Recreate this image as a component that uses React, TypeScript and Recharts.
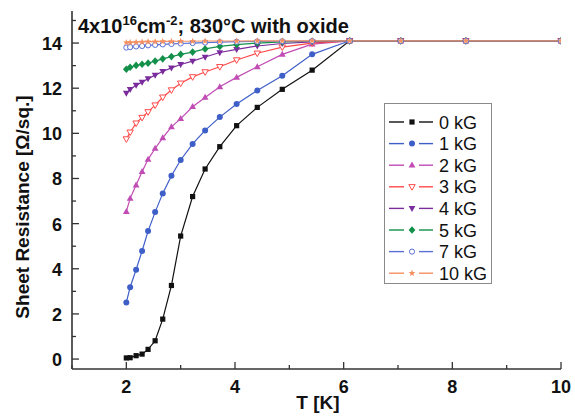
import React from 'react';
import { LineChart, Line, XAxis, YAxis, Legend } from 'recharts';

const T = [2.0, 2.07, 2.18, 2.29, 2.4, 2.53, 2.67, 2.83, 3.0, 3.22, 3.45, 3.72, 4.03, 4.41, 4.87, 5.42, 6.11, 7.05, 8.25, 10.0];

const R0 = [0.05, 0.06, 0.15, 0.22, 0.43, 0.81, 1.77, 3.26, 5.45, 7.2, 8.42, 9.41, 10.34, 11.15, 11.95, 12.8, 14.1, 14.1, 14.1, 14.1];
const R1 = [2.51, 3.18, 3.96, 4.79, 5.67, 6.51, 7.34, 8.12, 8.82, 9.53, 10.13, 10.72, 11.3, 11.9, 12.55, 13.5, 14.1, 14.1, 14.1, 14.1];
const R2 = [6.53, 7.12, 7.71, 8.3, 8.85, 9.33, 9.8, 10.29, 10.65, 11.18, 11.59, 12.06, 12.48, 12.95, 13.5, 13.95, 14.1, 14.1, 14.1, 14.1];
const R3 = [9.75, 10.05, 10.45, 10.7, 10.95, 11.25, 11.6, 11.92, 12.22, 12.5, 12.72, 12.95, 13.25, 13.55, 13.82, 14.0, 14.1, 14.1, 14.1, 14.1];
const R4 = [11.78, 11.95, 12.13, 12.27, 12.42, 12.58, 12.74, 12.9, 13.05, 13.2, 13.38, 13.58, 13.72, 13.87, 13.98, 14.05, 14.1, 14.1, 14.1, 14.1];
const R5 = [12.84, 12.93, 13.01, 13.06, 13.11, 13.2, 13.3, 13.4, 13.5, 13.6, 13.74, 13.85, 13.93, 14.0, 14.05, 14.08, 14.1, 14.1, 14.1, 14.1];
const R7 = [13.8, 13.82, 13.85, 13.87, 13.9, 13.92, 13.94, 13.96, 13.98, 14.0, 14.02, 14.04, 14.06, 14.07, 14.08, 14.09, 14.1, 14.1, 14.1, 14.1];
const R10 = [14.02, 14.03, 14.04, 14.05, 14.06, 14.06, 14.07, 14.07, 14.08, 14.08, 14.09, 14.09, 14.09, 14.1, 14.1, 14.1, 14.1, 14.1, 14.1, 14.1];

const SERIES_NAMES = ['0 kG', '1 kG', '2 kG', '3 kG', '4 kG', '5 kG', '7 kG', '10 kG'];
const SERIES_KEYS = ['r0', 'r1', 'r2', 'r3', 'r4', 'r5', 'r7', 'r10'];
const SERIES_VALUES = [R0, R1, R2, R3, R4, R5, R7, R10];
const SERIES_COLORS = ['#111111', '#3f5fc8', '#c04cb4', '#ff4a4a', '#7a2c9c', '#13904a', '#5a70d4', '#f59060'];
const SERIES_SHAPES = ['square', 'circle', 'triUp', 'triDownOpen', 'triDown', 'diamond', 'circleOpen', 'star'];

const X_TICKS = [1, 2, 3, 4, 5, 6, 7, 8, 9, 10];
const X_LABELS = [2, 4, 6, 8, 10];
const Y_TICKS = [0, 1, 2, 3, 4, 5, 6, 7, 8, 9, 10, 11, 12, 13, 14, 15];
const Y_LABELS = [0, 2, 4, 6, 8, 10, 12, 14];

const data = T.map((t, i) => {
  const row: any = { T: t };
  SERIES_KEYS.forEach((k, j) => {
    row[k] = SERIES_VALUES[j][i];
  });
  return row;
});

const FONT = 'Liberation Sans, Arial, sans-serif';
const FRAME = '#333333';

function Marker({ shape, color, cx, cy }: { shape: string; color: string; cx: number; cy: number }) {
  switch (shape) {
    case 'square':
      return <rect x={cx - 2.6} y={cy - 2.6} width={5.2} height={5.2} fill={color} />;
    case 'circle':
      return <circle cx={cx} cy={cy} r={3} fill={color} />;
    case 'circleOpen':
      return <circle cx={cx} cy={cy} r={2.6} fill="#fff" stroke={color} strokeWidth={1} />;
    case 'triUp':
      return <path d={`M${cx},${cy - 3.6} L${cx + 3.4},${cy + 2.4} L${cx - 3.4},${cy + 2.4} Z`} fill={color} />;
    case 'triDown':
      return <path d={`M${cx},${cy + 3.6} L${cx + 3.4},${cy - 2.4} L${cx - 3.4},${cy - 2.4} Z`} fill={color} />;
    case 'triDownOpen':
      return (
        <path
          d={`M${cx},${cy + 3.4} L${cx + 3.2},${cy - 2.2} L${cx - 3.2},${cy - 2.2} Z`}
          fill="#fff"
          stroke={color}
          strokeWidth={1}
        />
      );
    case 'diamond':
      return <path d={`M${cx},${cy - 3.8} L${cx + 3.4},${cy} L${cx},${cy + 3.8} L${cx - 3.4},${cy} Z`} fill={color} />;
    case 'star': {
      const pts: string[] = [];
      for (let k = 0; k < 10; k++) {
        const r = k % 2 === 0 ? 3.6 : 1.5;
        const a = -Math.PI / 2 + (k * Math.PI) / 5;
        pts.push(`${cx + r * Math.cos(a)},${cy + r * Math.sin(a)}`);
      }
      return <polygon points={pts.join(' ')} fill={color} />;
    }
    default:
      return <circle cx={cx} cy={cy} r={3} fill={color} />;
  }
}

const XTick = (props: any) => {
  const { x, y, payload } = props;
  const v = payload.value;
  const major = X_LABELS.includes(v);
  const len = major ? 7 : 4;
  return (
    <g>
      <line x1={x} y1={y} x2={x} y2={y - len} stroke={FRAME} strokeWidth={1.3} />
      {major && (
        <text x={x} y={y + 24} textAnchor="middle" fontFamily={FONT} fontWeight="bold" fontSize={18} fill="#111">
          {v}
        </text>
      )}
    </g>
  );
};

const YTick = (props: any) => {
  const { x, y, payload } = props;
  const v = payload.value;
  const major = Y_LABELS.includes(v);
  const len = major ? 7 : 4;
  return (
    <g>
      <line x1={x} y1={y} x2={x + len} y2={y} stroke={FRAME} strokeWidth={1.3} />
      {major && (
        <text x={x - 10} y={y + 7} textAnchor="end" fontFamily={FONT} fontWeight="bold" fontSize={18} fill="#111">
          {v}
        </text>
      )}
    </g>
  );
};

const LegendBox = () => (
  <div
    style={{
      width: 108,
      height: 181,
      border: '1px solid #8a8a8a',
      background: '#fff',
      boxSizing: 'border-box',
      position: 'relative',
    }}
  >
    <svg width={108} height={181} style={{ position: 'absolute', left: 0, top: 0 }}>
      {SERIES_NAMES.map((name, i) => {
        const cy = 18 + i * 21.6;
        const color = SERIES_COLORS[i];
        return (
          <g key={name}>
            <line x1={4} x2={19} y1={cy} y2={cy} stroke={color} strokeWidth={1.4} />
            <line x1={34} x2={48} y1={cy} y2={cy} stroke={color} strokeWidth={1.4} />
            <Marker shape={SERIES_SHAPES[i]} color={color} cx={27} cy={cy} />
            <text x={54} y={cy + 6.5} fontFamily={FONT} fontSize={18} fill="#111">
              {name}
            </text>
          </g>
        );
      })}
    </svg>
  </div>
);

export default function App() {
  return (
    <div style={{ position: 'absolute', left: 0, top: 0, width: 575, height: 418, background: '#fff' }}>
      <LineChart
        width={575}
        height={418}
        data={data}
        margin={{ top: 11, right: 14, bottom: 0, left: 0 }}
      >
        <XAxis
          dataKey="T"
          type="number"
          domain={[1, 10]}
          ticks={X_TICKS}
          interval={0}
          height={49}
          tickSize={0}
          tickMargin={0}
          tick={<XTick />}
          axisLine={{ stroke: FRAME, strokeWidth: 1.6 }}
          tickLine={false}
          allowDataOverflow
        />
        <XAxis
          xAxisId="top"
          orientation="top"
          type="number"
          domain={[1, 10]}
          height={0}
          tick={false}
          tickLine={false}
          axisLine={{ stroke: FRAME, strokeWidth: 1.6 }}
        />
        <YAxis
          type="number"
          domain={[-0.44, 15.42]}
          ticks={Y_TICKS}
          interval={0}
          width={72}
          tickSize={0}
          tickMargin={0}
          tick={<YTick />}
          axisLine={{ stroke: FRAME, strokeWidth: 1.6 }}
          tickLine={false}
          allowDataOverflow
        />
        <YAxis
          yAxisId="right"
          orientation="right"
          type="number"
          domain={[-0.44, 15.42]}
          width={0}
          tick={false}
          tickLine={false}
          axisLine={{ stroke: FRAME, strokeWidth: 1.6 }}
        />
        {SERIES_KEYS.map((k, i) => (
          <Line
            key={k}
            dataKey={k}
            name={SERIES_NAMES[i]}
            type="linear"
            stroke={SERIES_COLORS[i]}
            strokeWidth={1.2}
            isAnimationActive={false}
            dot={(p: any) => (
              <Marker key={`${k}-${p.index}`} shape={SERIES_SHAPES[i]} color={SERIES_COLORS[i]} cx={p.cx} cy={p.cy} />
            )}
            activeDot={false}
          />
        ))}
        <Legend
          layout="vertical"
          align="center"
          verticalAlign="middle"
          content={<LegendBox />}
          wrapperStyle={{ left: 384, top: 103, width: 108, height: 181 }}
        />
      </LineChart>
      <svg
        width={575}
        height={418}
        style={{ position: 'absolute', left: 0, top: 0, pointerEvents: 'none' }}
      >
        <text x={78} y={33} fontFamily={FONT} fontWeight="bold" fontSize={20} fill="#111">
          4x10
          <tspan dy={-8} fontSize={13}>16</tspan>
          <tspan dy={8}>cm</tspan>
          <tspan dy={-8} fontSize={13}>-2</tspan>
          <tspan dy={8}>; 830°C with oxide</tspan>
        </text>
        <text x={318} y={409} textAnchor="middle" fontFamily={FONT} fontWeight="bold" fontSize={19} fill="#111">
          T [K]
        </text>
        <text
          x={0}
          y={0}
          transform="translate(29,207) rotate(-90)"
          textAnchor="middle"
          fontFamily={FONT}
          fontWeight="bold"
          fontSize={19}
          fill="#111"
        >
          Sheet Resistance [Ω/sq.]
        </text>
      </svg>
    </div>
  );
}
